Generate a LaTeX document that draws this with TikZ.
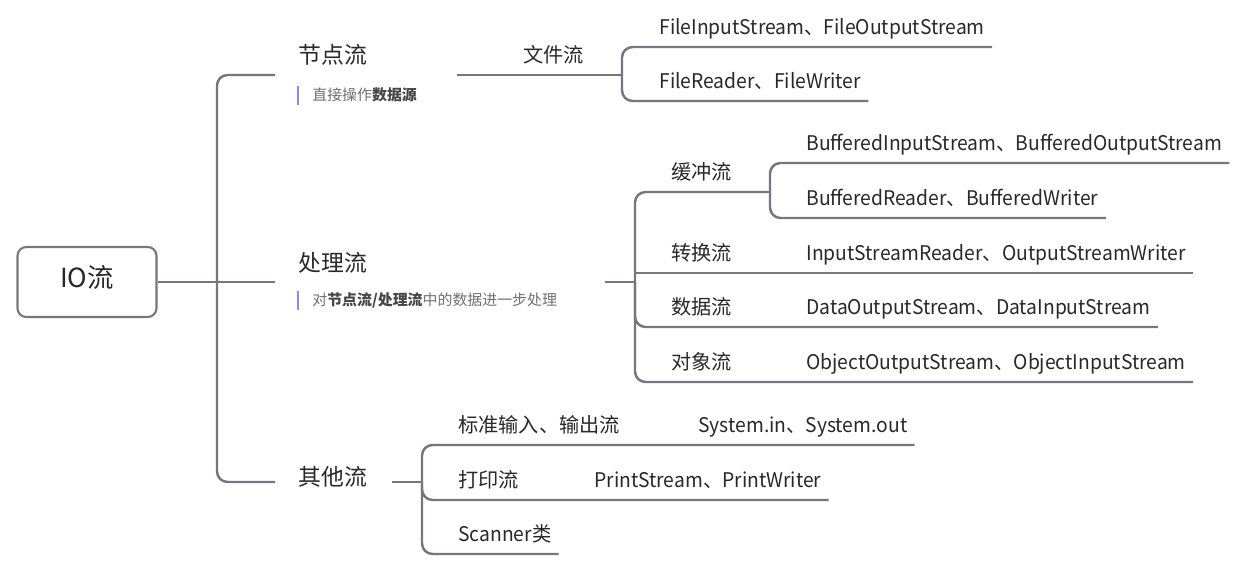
\documentclass[tikz,border=0pt]{standalone}
\usepackage{fontspec}
\setmainfont{Noto Sans CJK SC}
\newfontfamily\leaffont{Noto Sans CJK SC}[FakeStretch=0.955]
\usetikzlibrary{positioning}
\definecolor{linegray}{RGB}{118,118,128}
\definecolor{txt}{RGB}{40,40,40}
\definecolor{notegray}{RGB}{112,112,112}
\definecolor{notebold}{RGB}{70,70,70}
\definecolor{barblue}{RGB}{140,140,230}

\begin{document}
\begin{tikzpicture}[x=0.02cm,y=-0.02cm,
  every node/.style={text=txt,inner sep=0pt,text height=0.8em,text depth=0.2em},
  root/.style={draw=linegray,line width=1.2pt,rounded corners=5pt,minimum width=2.78cm,minimum height=1.4cm,font=\fontsize{15}{18}\selectfont},
  main/.style={anchor=west,font=\fontsize{13}{16}\selectfont},
  sub/.style={anchor=south west,text depth=0.7em,font=\fontsize{11.5}{14}\selectfont},
  leaf/.style={sub,font=\leaffont\fontsize{11.5}{14}\selectfont},
  note/.style={anchor=west,text=notegray,font=\fontsize{8.5}{10}\selectfont},
  link/.style={draw=linegray,line width=1.4pt,rounded corners=6pt},
  bar/.style={draw=barblue,line width=1.4pt}]
\useasboundingbox (0,0) rectangle (1249,571);

% root and first level
\node[root] (io) at (87,282) {IO流};
\coordinate (trunk) at (217,282);
\node[main] (jd) at (298,58) {节点流};
\node[note] (jdn) at (312,95) {直接操作\textbf{\color{notebold}数据源}};
\node[main] (cl) at (298,266) {处理流};
\node[note] (cln) at (312,300) {对\textbf{\color{notebold}节点流/处理流}中的数据进一步处理};
\node[main] (qt) at (298,480) {其他流};
\draw[bar] (jdn.west) ++(-14,-9) -- ++(0,19);
\draw[bar] (cln.west) ++(-14,-9) -- ++(0,19);

\coordinate (jdl) at (275,75);
\coordinate (jdr) at (457,75);
\coordinate (cll) at (275,282);
\coordinate (clr) at (605,282);
\coordinate (qtl) at (275,482);
\coordinate (qtr) at (392,482);
\draw[link] (io) -- (cll);
\draw[link] (trunk) |- (jdl);
\draw[link] (trunk) |- (qtl);

% node streams
\node[sub] (wj) at (523,75) {文件流};
\coordinate (wjj) at (622,75);
\node[leaf] (fis) at (659,47) {FileInputStream、FileOutputStream};
\node[leaf] (frw) at (659,101) {FileReader、FileWriter};
\draw[link] (jdr) -- (wjj);
\draw[link] (wjj) |- ([xshift=4pt]fis.south east);
\draw[link] (wjj) |- ([xshift=4pt]frw.south east);

% processing streams
\coordinate (clj) at (635,282);
\draw[link] (clr) -- (clj);
\node[sub] (hc) at (671,192) {缓冲流};
\coordinate (hcj) at (770,192);
\node[leaf] (bis) at (806,163) {BufferedInputStream、BufferedOutputStream};
\node[leaf] (brw) at (806,218) {BufferedReader、BufferedWriter};
\draw[link] (clj) |- (hcj);
\draw[link] (hcj) |- ([xshift=4pt]bis.south east);
\draw[link] (hcj) |- ([xshift=4pt]brw.south east);
\node[sub] (zh) at (671,273) {转换流};
\node[leaf] (isr) at (806,273) {InputStreamReader、OutputStreamWriter};
\draw[link] (zh.south -| clj) -- ([xshift=4pt]isr.south east);
\node[sub] (sj) at (671,327) {数据流};
\node[leaf] (dos) at (806,327) {DataOutputStream、DataInputStream};
\draw[link] (clj) |- ([xshift=4pt]dos.south east);
\node[sub] (dx) at (671,382) {对象流};
\node[leaf] (oos) at (806,382) {ObjectOutputStream、ObjectInputStream};
\draw[link] (clj) |- ([xshift=4pt]oos.south east);

% other streams
\coordinate (qtj) at (422,482);
\draw[link] (qtr) -- (qtj);
\node[sub] (bz) at (458,445) {标准输入、输出流};
\node[leaf] (sys) at (698,445) {System.in、System.out};
\draw[link] (qtj) |- ([xshift=4pt]sys.south east);
\node[sub] (dy) at (458,500) {打印流};
\node[leaf] (ps) at (594,500) {PrintStream、PrintWriter};
\draw[link] (qtj) |- ([xshift=4pt]ps.south east);
\node[leaf] (sc) at (458,554) {Scanner类};
\draw[link] (qtj) |- ([xshift=4pt]sc.south east);
\end{tikzpicture}
\end{document}
